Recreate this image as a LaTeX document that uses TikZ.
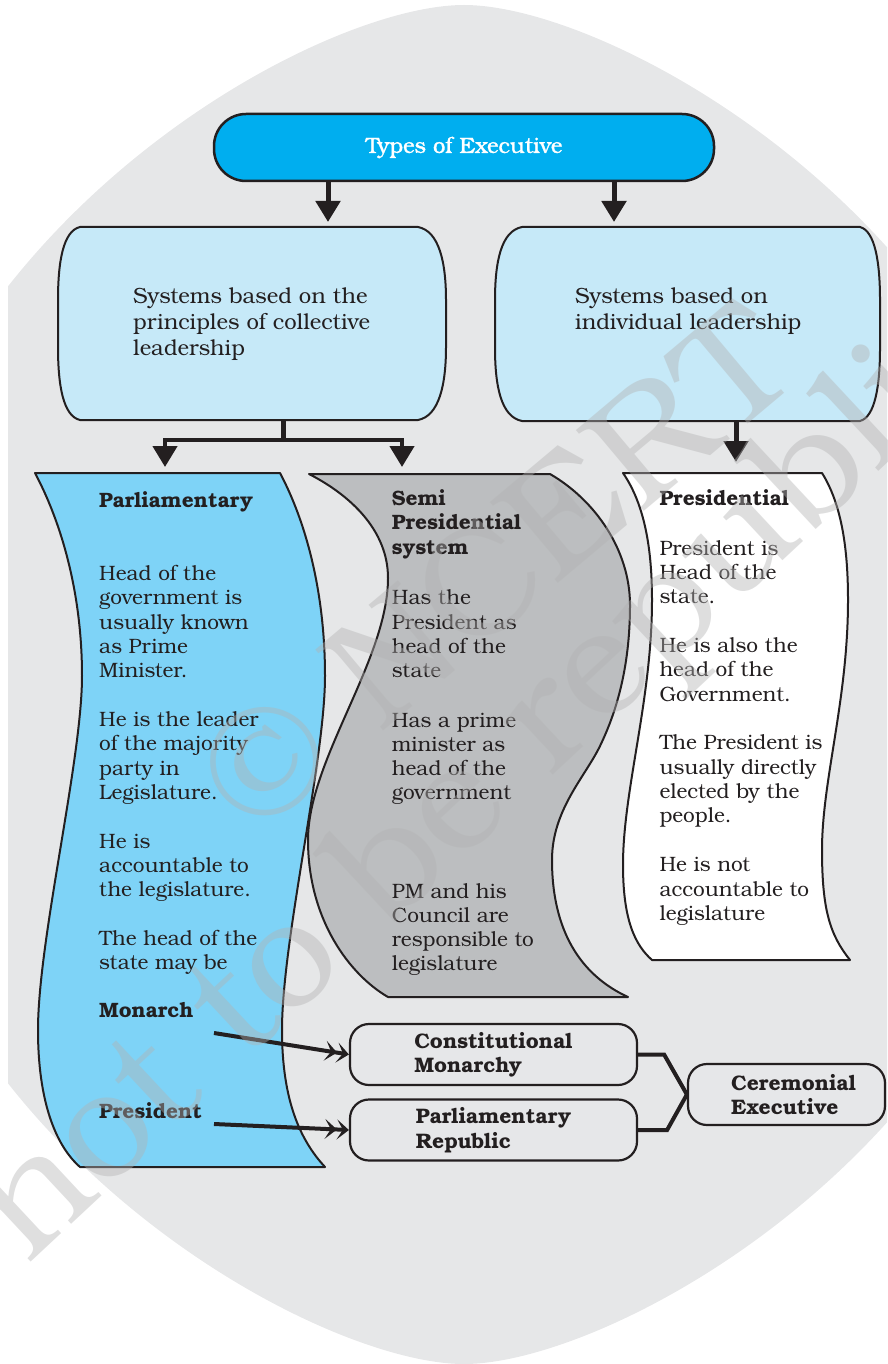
\documentclass[tikz,border=0pt]{standalone}
\usepackage{fontspec}
\setmainfont{texgyrebonum}[Extension=.otf, UprightFont=*-regular, BoldFont=*-bold, ItalicFont=*-italic, BoldItalicFont=*-bolditalic]
\usetikzlibrary{arrows.meta}
\definecolor{bgc}{HTML}{E6E7E8}
\definecolor{boxg}{HTML}{E6E7E9}
\definecolor{cyanc}{HTML}{00AEEF}
\definecolor{lblue}{HTML}{C6E9F8}
\definecolor{pblue}{HTML}{7ED3F7}
\definecolor{sgray}{HTML}{BCBEC0}
\definecolor{inkc}{HTML}{231F20}
\newcommand\tblock[3][20.8]{\parbox[t]{290pt}{\fontsize{#1}{#2}\selectfont\raggedright #3}}
\begin{document}
\begin{tikzpicture}[x=1pt,y=-1pt,
  ink/.style={draw=inkc,line width=2pt,line join=round},
  arr/.style={draw=inkc,line width=5pt,line join=miter,-{Triangle[length=21pt,width=24pt]}},
  conn/.style={draw=inkc,line width=4pt,line join=miter},
  darr/.style={draw=inkc,line width=4pt,-{Stealth[length=12pt,width=20pt,inset=6pt]Stealth[length=12pt,width=20pt,inset=6pt]}},
  txt/.style={anchor=base west,inner sep=0pt,text=inkc,font=\fontsize{20.8}{24.35}\selectfont},
  hold/.style={inner sep=0pt,draw=none},
  pill/.style={draw=inkc,line width=2.2pt,fill=boxg,rounded corners=19pt,minimum height=61pt,inner sep=0pt,text=inkc,align=left,font=\bfseries\fontsize{21}{24.4}\selectfont},
  wmark/.style={text=black!30,text opacity=0.42,font=\fontsize{155}{160}\selectfont,inner sep=0pt}
]
\useasboundingbox (0,0) rectangle (887,1364);
% background oval
\begin{scope}
\clip (8,0) rectangle (887,1364);
\fill[bgc] (464,5) .. controls (624,5) and (1064,257) .. (1064,685)
  .. controls (1064,1113) and (624,1364) .. (464,1364)
  .. controls (304,1364) and (-136,1113) .. (-136,685)
  .. controls (-136,257) and (304,5) .. cycle;
\end{scope}

% title
\node[draw=inkc,line width=2.5pt,fill=cyanc,rounded corners=32pt,minimum width=500pt,minimum height=67pt,text=white,font=\fontsize{22}{26}\selectfont\addfontfeature{FakeBold=1.2}] (title) at (464,147.5) {Types of Executive};

% system boxes
\draw[ink,fill=lblue] (80,227) -- (418,227)
  .. controls (439,231) and (446,262) .. (446,300) -- (446,347)
  .. controls (446,385) and (439,416) .. (418,420) -- (80,420)
  .. controls (63,416) and (58,385) .. (58,347) -- (58,300)
  .. controls (58,262) and (63,231) .. cycle;
\node[hold,minimum width=388pt,minimum height=193pt] (sysL) at (252,323.5) {};
\draw[ink,fill=lblue] (522,227) -- (860,227)
  .. controls (875,231) and (880,262) .. (880,300) -- (880,348)
  .. controls (880,386) and (875,417) .. (860,421) -- (522,421)
  .. controls (501,417) and (495,386) .. (495,348) -- (495,300)
  .. controls (495,262) and (501,231) .. cycle;
\node[hold,minimum width=385pt,minimum height=194pt] (sysR) at (687.5,324) {};
\node[txt] (sysLt) at (133,303.3) {\tblock[22]{25.9}{Systems based on the\\principles of collective\\leadership}};
\node[txt] (sysRt) at (575,303.3) {\tblock[22]{25.9}{Systems based on\\individual leadership}};

% arrows from title
\coordinate (tipL) at (328,222);
\coordinate (tipR) at (614,222);
\draw[arr] (title.south -| tipL) -- (tipL);
\draw[arr] (title.south -| tipR) -- (tipR);

% parliamentary wave
\draw[ink,fill=pblue] (35,473) -- (280,473)
  .. controls (305,520) and (325,590) .. (325,676)
  .. controls (325,760) and (282,940) .. (282,1030)
  .. controls (282,1100) and (300,1140) .. (325,1167)
  -- (80,1167)
  .. controls (55,1145) and (38,1100) .. (38,1030)
  .. controls (38,940) and (82,760) .. (82,676)
  .. controls (82,590) and (60,520) .. cycle;
% semi presidential wave
\draw[ink,fill=sgray] (309,474) -- (550,474)
  .. controls (595,500) and (630,550) .. (630,605)
  .. controls (630,670) and (615,715) .. (600,746)
  .. controls (585,777) and (552,810) .. (552,860)
  .. controls (552,930) and (580,975) .. (628,997)
  -- (388,997)
  .. controls (350,975) and (308,920) .. (308,840)
  .. controls (308,760) and (388,660) .. (388,578)
  .. controls (388,530) and (350,495) .. cycle;
% presidential wave
\draw[ink,fill=white] (623,473) -- (822,473)
  .. controls (842,505) and (848,550) .. (848,600)
  .. controls (848,700) and (822,780) .. (822,850)
  .. controls (822,910) and (830,935) .. (850,960)
  -- (652,960)
  .. controls (635,945) and (623,920) .. (623,865)
  .. controls (623,790) and (652,700) .. (652,600)
  .. controls (652,550) and (645,505) .. cycle;

% fork connectors
\coordinate (fork) at (283,440);
\coordinate (parlTip) at (165,467);
\coordinate (semiTip) at (402,467);
\coordinate (presTip) at (736,462);
\draw[conn,line width=5pt] (sysL.south -| fork) -- (fork);
\draw[arr,line width=4.5pt] (fork) -| (parlTip);
\draw[arr,line width=4.5pt] (fork) -| (semiTip);
\draw[arr] (sysR.south -| presTip) -- (presTip);

% texts in waves
\node[txt] (parlT) at (99,507.3) {\tblock{24.35}{\textbf{Parliamentary}\\[48.7pt]
Head of the\\government is\\usually known\\as Prime\\Minister.\\[24.35pt]
He is the leader\\of the majority\\party in\\Legislature.\\[24.35pt]
He is\\accountable to\\the legislature.\\[24.35pt]
The head of the\\state may be}};
\node[txt] (mon) at (99,1017.8) {\bfseries Monarch};
\node[txt] (pres) at (99,1118) {\bfseries President};

\node[txt] (semiT) at (391.7,505.7) {\tblock{24.15}{\textbf{Semi}\\\textbf{Presidential}\\\textbf{system}\\[26.8pt]
Has the\\President as\\head of the\\state\\[25.8pt]
Has a prime\\minister as\\head of the\\government\\[74.3pt]
PM and his\\Council are\\responsible to\\legislature}};

\node[txt] (presT) at (659.3,505) {\tblock{24.3}{\textbf{Presidential}\\[25.7pt]
President is\\Head of the\\state.\\[24.7pt]
He is also the\\head of the\\Government.\\[24.3pt]
The President is\\usually directly\\elected by the\\people.\\[24.7pt]
He is not\\accountable to\\legislature}};

% bottom boxes
\node[pill,minimum width=287pt] (cm) at (493.5,1054.5) {Constitutional\\Monarchy};
\node[pill,minimum width=287pt] (pr) at (493.5,1130) {Parliamentary\\Republic};
\node[pill,minimum width=197pt] (ce) at (786.5,1094.5) {};
\node[txt] (cet) at (731,1090) {\tblock[21]{24.4}{\bfseries Ceremonial\\Executive}};

\coordinate (monA) at (214,1033);
\coordinate (presA) at (214,1124);
\draw[darr] (monA) -- (cm.west);
\draw[darr] (presA) -- (pr.west);
\draw[conn] (cm.east) -- ++(26,0) -- (ce.west);
\draw[conn] (pr.east) -- ++(29,0) -- (ce.west);

% watermark
\node[wmark,rotate=40] (wm1) at (495,568) {© NCERT};
\node[wmark,rotate=43] (wm2) at (592,687) {not to be republished};
\end{tikzpicture}
\end{document}
